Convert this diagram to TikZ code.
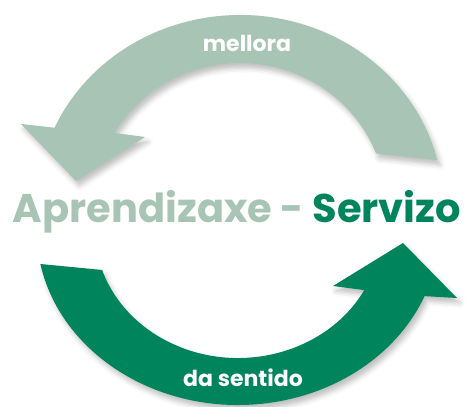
\documentclass[tikz,border=0pt]{standalone}
\usepackage{fontspec}
\setmainfont{Poppins}
\usetikzlibrary{calc,shadows.blur}
\definecolor{mellorafill}{RGB}{167,196,180}
\definecolor{servizofill}{RGB}{0,132,92}
\tikzset{
  softshadow/.style={blur shadow={shadow xshift=3pt,shadow yshift=-5pt,shadow opacity=25,shadow blur radius=5pt}},
  arrowlabel/.style={text=white,font=\bfseries\fontsize{22}{24}\selectfont,anchor=base,inner sep=0pt}
}
\begin{document}
\begin{tikzpicture}[x=1pt,y=1pt]
  \useasboundingbox (0,0) rectangle (466,407);
  % top arrow (mellora)
  \coordinate (tc) at (240,202);
  \coordinate (tout) at ($(tc)+(13.7:203pt and 190pt)$);
  \coordinate (tin) at ($(tc)+(149.5:146pt and 142pt)$);
  \coordinate (twl) at (21,283);
  \coordinate (ttip) at (76,226);
  \coordinate (twr) at (145,270);
  \fill[mellorafill,softshadow] (tout) arc[start angle=13.7,end angle=156,x radius=203pt,y radius=190pt]
    -- (twl) -- (ttip) -- (twr) -- (tin)
    arc[start angle=149.5,end angle=21.3,x radius=146pt,y radius=142pt] -- cycle;
  % bottom arrow (da sentido)
  \coordinate (bc) at (238,177);
  \coordinate (bout) at ($(bc)+(191.2:201.5pt and 175pt)$);
  \coordinate (bin) at ($(bc)+(332:143pt and 128pt)$);
  \coordinate (bwr) at (457,109);
  \coordinate (btip) at (403,164);
  \coordinate (bwl) at (333,121);
  \fill[servizofill,softshadow] (bout) arc[start angle=191.2,end angle=337.8,x radius=201.5pt,y radius=175pt]
    -- (bwr) -- (btip) -- (bwl) -- (bin)
    arc[start angle=332,end angle=198.2,x radius=143pt,y radius=128pt] -- cycle;
  % texts
  \node[arrowlabel] (mellora) at (247,355) {mellora};
  \node[arrowlabel] (sentido) at (243,20) {da sentido};
  \node[anchor=base,inner sep=0pt,font=\bfseries\fontsize{40}{44}\selectfont] (title) at (237,184)
    {\textcolor{mellorafill}{Aprendizaxe -} \textcolor{servizofill}{Servizo}};
\end{tikzpicture}
\end{document}
